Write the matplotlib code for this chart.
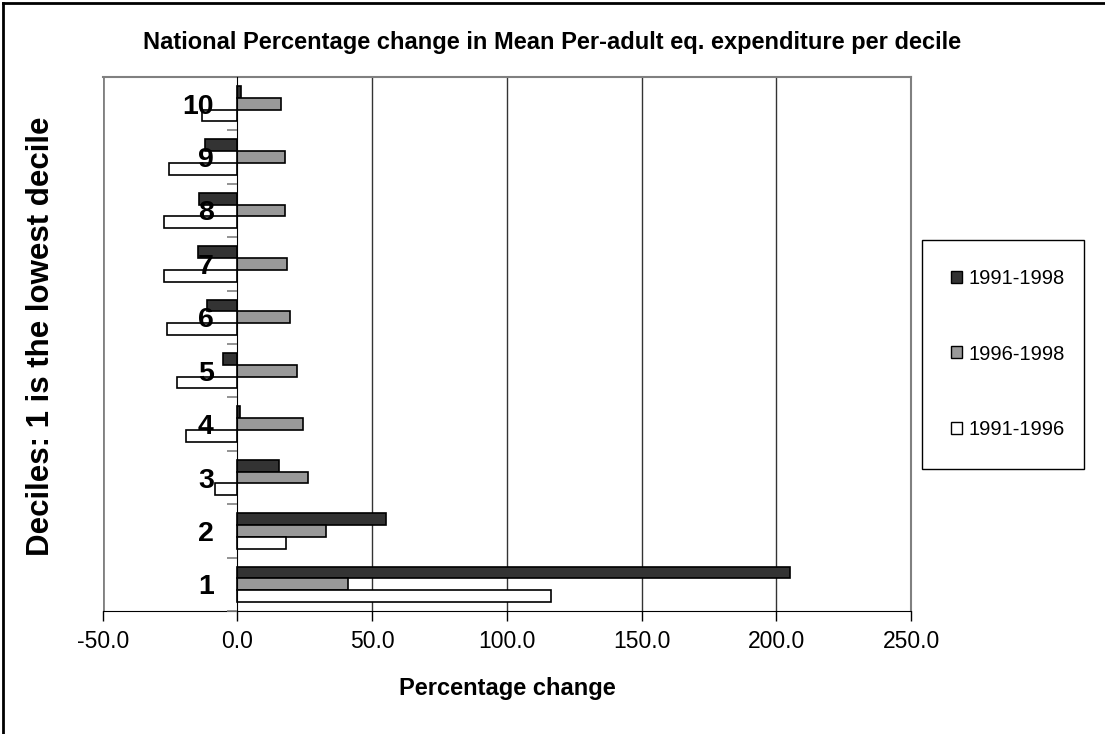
import numpy as np
import matplotlib
matplotlib.use('Agg')
import matplotlib.pyplot as plt
from matplotlib.patches import Patch

plt.rcParams['font.family'] = ['Liberation Sans', 'DejaVu Sans']

deciles = ['1', '2', '3', '4', '5', '6', '7', '8', '9', '10']
series = ['1991-1998', '1996-1998', '1991-1996']
chg_91_98 = [205.0, 55.2, 15.5, 0.9, -5.3, -11.2, -14.8, -14.1, -12.2, 1.2]
chg_96_98 = [40.9, 32.7, 26.1, 24.3, 22.0, 19.6, 18.4, 17.8, 17.8, 16.0]
chg_91_96 = [116.5, 17.9, -8.4, -18.9, -22.5, -26.0, -27.3, -27.3, -25.4, -13.0]
colors = ['#333333', '#999999', '#ffffff']

fig = plt.figure(figsize=(11.05, 7.34), dpi=100)
ax = fig.add_axes([102.7/1105, 1-611/734, (911-102.7)/1105, (611-77)/734])

# y axis crosses at zero (set before ticks, set_position resets them)
ax.spines['left'].set_position(('data', 0))
ax.spines['left'].set_zorder(4)

y = np.arange(1, len(deciles)+1)
h = 0.22
for vals, off, c, lab in zip([chg_91_98, chg_96_98, chg_91_96], [h, 0, -h], colors, series):
    ax.barh(y + off, vals, height=h, color=c, edgecolor='black', linewidth=1.2, label=lab, zorder=2)

ax.set_xlim(-50, 250)
ax.set_ylim(0.5, 10.5)
ax.set_xticks(np.arange(-50, 251, 50))
ax.set_xticklabels(['%.1f' % v for v in np.arange(-50, 251, 50)], fontsize=16.5)
ax.tick_params(axis='x', direction='out', length=7, width=1, pad=7)

# category boundaries as ticks, decile names at centres
ax.set_yticks(np.arange(0.5, 11, 1))
ax.set_yticklabels([])
ax.set_yticks(y, minor=True)
ax.set_yticklabels(deciles, minor=True, fontsize=20.5, fontweight='bold')
ax.tick_params(axis='y', which='major', direction='out', length=7, color='#808080', width=1.2)
ax.tick_params(axis='y', which='minor', length=0, pad=17)
ax.xaxis.set_zorder(5)
ax.yaxis.set_zorder(5)

ax.spines['top'].set_color('#808080')
ax.spines['right'].set_color('#808080')
ax.spines['top'].set_linewidth(1.5)
ax.spines['right'].set_linewidth(1.5)
ax.axvline(-50, color='#808080', lw=2)
for g in [50, 100, 150, 200]:
    ax.axvline(g, color='#333333', lw=1, zorder=1)

fig.text(507/1105, 1-689/734, 'Percentage change', fontsize=17, fontweight='bold',
         ha='center', va='center')
fig.text(41/1105, 1-336/734, 'Deciles: 1 is the lowest decile', rotation=90,
         fontsize=22.5, fontweight='bold', ha='center', va='center')
fig.text(552/1105, 1-43/734, 'National Percentage change in Mean Per-adult eq. expenditure per decile',
         fontsize=17, fontweight='bold', ha='center', va='center')

# legend box
fig.patches.append(plt.Rectangle((922/1105, 1-469/734), 162/1105, 229/734, transform=fig.transFigure,
                                 facecolor='white', edgecolor='black', lw=1))
handles = [Patch(facecolor=c, edgecolor='black') for c in colors]
fig.legend(handles, series, loc='center', bbox_to_anchor=(1008/1105, 1-354/734), frameon=False,
           fontsize=14.5, labelspacing=2.8, handlelength=0.55, handleheight=0.55, handletextpad=0.3)

# outer frame
fig.add_artist(plt.Line2D([3/1105, 3/1105], [0, 1-3/734], transform=fig.transFigure, color='black', lw=2))
fig.add_artist(plt.Line2D([3/1105, 1], [1-3/734, 1-3/734], transform=fig.transFigure, color='black', lw=2))

fig.savefig('out.png', dpi=100)
